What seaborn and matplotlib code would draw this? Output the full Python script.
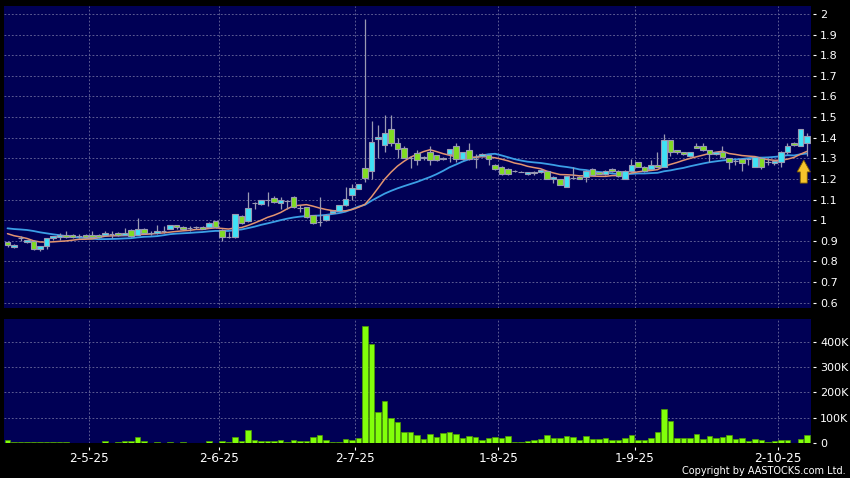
import numpy as np
import pandas as pd
import matplotlib
matplotlib.use("Agg")
import matplotlib.pyplot as plt
import seaborn as sns
from matplotlib.patches import Polygon

# ---------------- data ----------------
opens = [0.892, 0.871, 0.913, 0.892, 0.900, 0.858, 0.873, 0.913, 0.919, 0.929,
         0.929, 0.923, 0.929, 0.929, 0.929, 0.929, 0.932, 0.939, 0.929, 0.952,
         0.929, 0.958, 0.937, 0.936, 0.946, 0.957, 0.975, 0.967, 0.962, 0.967,
         0.967, 0.965, 0.994, 0.954, 0.917, 0.917, 1.020, 0.997, 1.082, 1.078,
         1.100, 1.110, 1.085, 1.092, 1.112, 1.060, 1.062, 1.024, 0.992, 1.000,
         1.037, 1.046, 1.072, 1.123, 1.152, 1.251, 1.240, 1.392, 1.363, 1.443,
         1.373, 1.352, 1.300, 1.325, 1.300, 1.330, 1.314, 1.295, 1.319, 1.362,
         1.298, 1.340, 1.298, 1.311, 1.314, 1.270, 1.260, 1.250, 1.238, 1.236,
         1.222, 1.227, 1.233, 1.238, 1.200, 1.200, 1.163, 1.205, 1.210, 1.210,
         1.250, 1.233, 1.223, 1.250, 1.240, 1.200, 1.238, 1.282, 1.260, 1.250,
         1.270, 1.260, 1.388, 1.340, 1.330, 1.310, 1.360, 1.362, 1.340, 1.320,
         1.330, 1.300, 1.285, 1.295, 1.295, 1.260, 1.300, 1.282, 1.277, 1.284,
         1.330, 1.375, 1.362, 1.372]
highs = [0.900, 0.885, 0.925, 0.905, 0.902, 0.875, 0.916, 0.925, 0.940, 0.948,
         0.932, 0.935, 0.932, 0.950, 0.932, 0.950, 0.950, 0.942, 0.960, 0.955,
         1.012, 0.962, 0.948, 0.975, 0.970, 0.978, 0.978, 0.970, 0.970, 0.970,
         0.970, 0.990, 0.997, 0.957, 0.943, 1.032, 1.023, 1.136, 1.090, 1.100,
         1.136, 1.115, 1.112, 1.100, 1.115, 1.072, 1.065, 1.027, 1.112, 1.030,
         1.050, 1.075, 1.160, 1.176, 1.177, 1.976, 1.483, 1.464, 1.512, 1.512,
         1.400, 1.360, 1.310, 1.340, 1.310, 1.360, 1.316, 1.305, 1.345, 1.375,
         1.332, 1.375, 1.320, 1.325, 1.316, 1.272, 1.262, 1.252, 1.242, 1.240,
         1.236, 1.240, 1.246, 1.240, 1.212, 1.202, 1.215, 1.260, 1.212, 1.242,
         1.252, 1.236, 1.242, 1.252, 1.242, 1.242, 1.295, 1.284, 1.262, 1.290,
         1.330, 1.420, 1.390, 1.342, 1.332, 1.332, 1.375, 1.375, 1.342, 1.332,
         1.362, 1.302, 1.295, 1.297, 1.300, 1.307, 1.302, 1.300, 1.290, 1.334,
         1.375, 1.377, 1.444, 1.425]
lows = [0.872, 0.866, 0.898, 0.890, 0.855, 0.850, 0.860, 0.905, 0.905, 0.915,
        0.916, 0.912, 0.915, 0.916, 0.915, 0.925, 0.916, 0.925, 0.926, 0.920,
        0.926, 0.932, 0.926, 0.932, 0.938, 0.955, 0.955, 0.955, 0.948, 0.958,
        0.955, 0.960, 0.962, 0.900, 0.914, 0.914, 0.980, 0.990, 1.055, 1.075,
        1.070, 1.085, 1.056, 1.056, 1.060, 1.040, 1.010, 0.980, 0.973, 0.995,
        1.033, 1.043, 1.068, 1.100, 1.150, 1.184, 1.200, 1.300, 1.331, 1.360,
        1.300, 1.300, 1.255, 1.270, 1.290, 1.270, 1.288, 1.293, 1.280, 1.280,
        1.290, 1.290, 1.255, 1.308, 1.270, 1.245, 1.220, 1.218, 1.234, 1.232,
        1.218, 1.218, 1.230, 1.198, 1.180, 1.170, 1.160, 1.200, 1.198, 1.185,
        1.218, 1.222, 1.220, 1.236, 1.210, 1.198, 1.236, 1.258, 1.236, 1.248,
        1.258, 1.258, 1.310, 1.320, 1.318, 1.305, 1.348, 1.338, 1.280, 1.318,
        1.300, 1.250, 1.270, 1.237, 1.270, 1.258, 1.250, 1.270, 1.270, 1.260,
        1.320, 1.360, 1.358, 1.310]
closes = [0.882, 0.881, 0.913, 0.903, 0.858, 0.873, 0.913, 0.923, 0.929, 0.919,
          0.919, 0.923, 0.919, 0.919, 0.919, 0.939, 0.932, 0.929, 0.939, 0.923,
          0.958, 0.937, 0.937, 0.946, 0.946, 0.975, 0.966, 0.958, 0.962, 0.967,
          0.958, 0.986, 0.965, 0.917, 0.917, 1.029, 0.986, 1.058, 1.082, 1.098,
          1.100, 1.088, 1.096, 1.092, 1.064, 1.060, 1.016, 0.984, 0.992, 1.027,
          1.046, 1.072, 1.101, 1.155, 1.174, 1.203, 1.379, 1.403, 1.421, 1.373,
          1.344, 1.304, 1.300, 1.292, 1.308, 1.292, 1.291, 1.303, 1.343, 1.298,
          1.330, 1.298, 1.298, 1.322, 1.295, 1.250, 1.222, 1.222, 1.238, 1.236,
          1.233, 1.236, 1.243, 1.201, 1.210, 1.173, 1.213, 1.205, 1.200, 1.240,
          1.220, 1.224, 1.240, 1.238, 1.213, 1.240, 1.270, 1.260, 1.238, 1.270,
          1.260, 1.388, 1.330, 1.330, 1.320, 1.330, 1.350, 1.340, 1.320, 1.330,
          1.305, 1.280, 1.285, 1.275, 1.295, 1.305, 1.260, 1.282, 1.287, 1.332,
          1.360, 1.365, 1.442, 1.410]
# volume in thousands of shares
volume_k = [13, 5, 4, 5, 6, 4, 5, 4, 4, 5, 1, 1, 3, 1, 3, 9, 3, 5, 9, 9,
            24, 9, 3, 5, 3, 4, 3, 4, 1, 1, 3, 8, 3, 8, 5, 25, 9, 52, 12, 9,
            9, 8, 12, 5, 12, 8, 9, 25, 31, 12, 5, 7, 17, 12, 20, 463, 391, 125, 167, 98,
            85, 46, 45, 33, 17, 35, 24, 39, 43, 38, 22, 28, 26, 14, 20, 25, 21, 28, 7, 5,
            9, 14, 17, 33, 21, 20, 28, 25, 14, 28, 17, 17, 22, 12, 14, 22, 33, 13, 13, 20,
            46, 134, 88, 22, 22, 20, 35, 17, 29, 20, 26, 33, 17, 22, 9, 17, 14, 4, 9, 12,
            12, 3, 17, 33]
# closes before the visible window, estimated from where the moving averages start
prior_closes = [0.950, 0.955, 0.955, 0.955, 1.000, 1.010, 1.020, 1.010, 1.010, 1.000,
                0.980, 0.975, 0.975, 0.970, 0.930, 0.920, 0.910, 0.905, 0.900]
date_labels = ["2-5-25", "2-6-25", "2-7-25", "1-8-25", "1-9-25", "2-10-25"]
date_tick_pos = [12.5, 32.5, 53.5, 75.5, 96.5, 118.5]
price_ticks = [0.6, 0.7, 0.8, 0.9, 1.0, 1.1, 1.2, 1.3, 1.4, 1.5, 1.6, 1.7, 1.8, 1.9, 2.0]
vol_ticks_k = [0, 100, 200, 300, 400]

# ---------------- style ----------------
sns.set_theme(style="dark")
plt.rcParams['font.family'] = ['DejaVu Sans']

NAVY = '#000055'
GRID = '#6a6a9c'
UP = '#3fe2f6'
DOWN = '#80dc22'
OUTLINE = '#9a9ab2'

df = pd.DataFrame({"open": opens, "high": highs, "low": lows,
                   "close": closes, "vol": np.array(volume_k) * 1000})
df["idx"] = np.arange(len(df))
allc = pd.Series(prior_closes + closes)
npre = len(prior_closes)
df["ma10"] = allc.rolling(10).mean().iloc[npre:].values
df["ma20"] = allc.rolling(20).mean().iloc[npre:].values

fig = plt.figure(figsize=(8.5, 4.78), dpi=100, facecolor='black')
ax = fig.add_axes([4 / 850, 1 - 308 / 478, 806.7 / 850, 302 / 478])
axv = fig.add_axes([4 / 850, 1 - 443.3 / 478, 806.7 / 850, 124.3 / 478])

for a in (ax, axv):
    a.set_facecolor(NAVY)
    for s in a.spines.values():
        s.set_color('none')
    a.set_xlim(-0.54, 123.57)
    a.set_xticks(date_tick_pos)
    a.grid(True, color=GRID, linestyle=(0, (2.2, 2.2)), linewidth=0.6)
    a.set_axisbelow(True)
    a.yaxis.tick_right()
    a.spines['right'].set_position(('outward', 1.7))
    a.tick_params(axis='y', colors='white', labelsize=8, length=2.2, width=0.8,
                  pad=2.8, direction='out', labelcolor='white')

# ---------------- price panel ----------------
ax.set_ylim(0.5742, 2.0388)
ax.set_yticks(price_ticks)
ax.set_yticklabels([f"{v:g}" for v in price_ticks])
ax.tick_params(axis='x', length=0, labelbottom=False)

sns.lineplot(data=df, x="idx", y="ma20", ax=ax, color='#3b9fe6', lw=1.3, zorder=2.5)
sns.lineplot(data=df, x="idx", y="ma10", ax=ax, color='#e39470', lw=1.1, zorder=2.6)

ax.vlines(df["idx"], df["low"], df["high"], color=OUTLINE, lw=0.9, zorder=3)
up = df["close"] >= df["open"]
body_bottom = np.minimum(df["open"], df["close"])
body_h = (df["close"] - df["open"]).abs()
ax.bar(df["idx"], body_h, bottom=body_bottom, width=0.78,
       color=np.where(up, UP, DOWN), edgecolor=OUTLINE, linewidth=0.8, zorder=4)

# yellow arrow at the latest bar
n = len(df) - 1
cx, tip = n - 0.5, 1.292
arrow = Polygon([(cx, tip), (cx + 1.02, tip - 0.058), (cx + 0.54, tip - 0.058),
                 (cx + 0.54, tip - 0.112), (cx - 0.54, tip - 0.112),
                 (cx - 0.54, tip - 0.058), (cx - 1.02, tip - 0.058)],
                closed=True, facecolor='#f6c42c', edgecolor='#7a5a00', lw=0.6, zorder=6)
ax.add_patch(arrow)
ax.set_xlabel("")
ax.set_ylabel("")

# ---------------- volume panel ----------------
axv.bar(df["idx"], df["vol"], width=0.86, color='#82ff0a', edgecolor='#4e9c00',
        linewidth=0.5, zorder=3)
axv.set_ylim(0, 489000)
axv.set_yticks([v * 1000 for v in vol_ticks_k])
axv.set_yticklabels([("0" if v == 0 else f"{v}K") for v in vol_ticks_k])
axv.set_xticklabels(date_labels)
axv.spines['bottom'].set_position(('outward', 2.7))
axv.tick_params(axis='x', colors='white', labelsize=8.7, length=2.2, width=0.8,
                pad=1.5, direction='out', labelcolor='white', bottom=True)
axv.set_xlabel("")
axv.set_ylabel("")

fig.text(845.7 / 850, 1 - 471 / 478, "Copyright by AASTOCKS.com Ltd.", color='white',
         fontsize=7, ha='right', va='center')

fig.savefig("out.png", dpi=100, facecolor='black')
